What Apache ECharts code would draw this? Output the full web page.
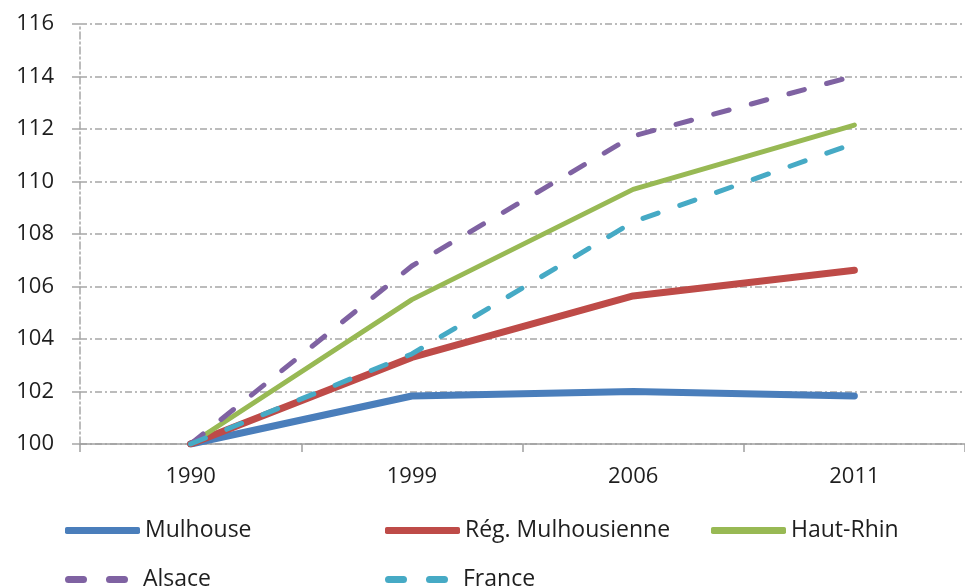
<!DOCTYPE html>
<html><head><meta charset="utf-8">
<script src="https://cdn.jsdelivr.net/npm/echarts@6/dist/echarts.min.js"></script>
<style>html,body{margin:0;padding:0;background:#fff}#c{width:965px;height:586px}</style>
</head><body><div id="c"></div>
<script>
const years = ['1990','1999','2006','2011'];
const mulhouse = [100, 101.83, 102.0, 101.83];
const regMulhousienne = [100, 103.3, 105.64, 106.62];
const hautRhin = [100, 105.5, 109.7, 112.15];
const alsace = [100, 106.78, 111.73, 114.02];
const france = [100, 103.43, 108.46, 111.45];
const yTicks = {min: 100, max: 116, interval: 2};

const font = 'Open Sans';
const dashDot = [7, 3, 2, 3];
const dashIcon = 'path://M3.5,0 L18.5,0 A3.5,3.5 0 0 1 18.5,7 L3.5,7 A3.5,3.5 0 0 1 3.5,0 Z M44.5,0 L59.5,0 A3.5,3.5 0 0 1 59.5,7 L44.5,7 A3.5,3.5 0 0 1 44.5,0 Z';
const chart = echarts.init(document.getElementById('c'));
function mk(name, data, color, width, dashed) {
  return {name, type: 'line', data, symbol: 'none', smooth: false,
    lineStyle: {color, width, type: dashed ? [16, 23] : 'solid', cap: 'round', join: 'round'},
    itemStyle: {color}, z: dashed ? 4 : 3};
}
function leg(name, left, top, dashed) {
  return {data: [name], left, top, itemGap: 0, padding: 0,
    icon: dashed ? dashIcon : 'roundRect',
    itemWidth: dashed ? 63 : 75, itemHeight: 7,
    textStyle: {fontFamily: font, fontSize: 23, color: '#1e1e1e', padding: [0, 0, 0, dashed ? 10 : 0]}};
}
chart.setOption({
  animation: false,
  grid: {left: 80, right: -3, top: 24, bottom: 142, containLabel: false},
  xAxis: {type: 'category', data: years, boundaryGap: true,
    axisLine: {lineStyle: {color: '#a0a0a0', width: 1.5}},
    axisTick: {show: true, length: 8, interval: 0, lineStyle: {color: '#a0a0a0', width: 1.5}},
    axisLabel: {fontFamily: font, fontSize: 22, color: '#1e1e1e', margin: 22},
    splitLine: {show: false}},
  yAxis: {type: 'value', min: yTicks.min, max: yTicks.max, interval: yTicks.interval,
    axisLine: {show: true, lineStyle: {color: '#a6a6a6', width: 1.5, type: dashDot}},
    axisTick: {show: true, length: 8, lineStyle: {color: '#a6a6a6', width: 1.5}},
    axisLabel: {fontFamily: font, fontSize: 22, color: '#1e1e1e', margin: 26},
    splitLine: {show: true, lineStyle: {color: '#a6a6a6', width: 1.5, type: dashDot}}},
  legend: [
    leg('Mulhouse', 65, 519, false),
    leg('Rég. Mulhousienne', 385, 519, false),
    leg('Haut-Rhin', 711, 519, false),
    leg('Alsace', 65, 568, true),
    leg('France', 385, 568, true)
  ],
  series: [
    mk('Mulhouse', mulhouse, '#4a7ebb', 7, false),
    mk('Rég. Mulhousienne', regMulhousienne, '#be4b48', 7, false),
    mk('Haut-Rhin', hautRhin, '#98b954', 5, false),
    mk('Alsace', alsace, '#7f62a2', 5, true),
    mk('France', france, '#46aac5', 5, true)
  ]
});
</script></body></html>
